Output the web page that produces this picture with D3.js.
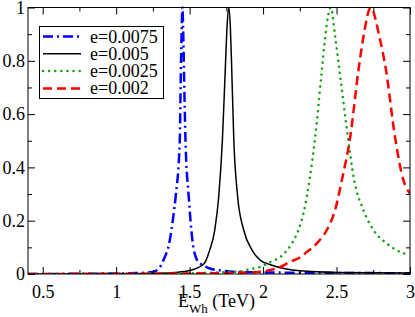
<!DOCTYPE html>
<html>
<head>
<meta charset="utf-8">
<script src="https://cdn.jsdelivr.net/npm/d3@7"></script>
<style>
  body { margin: 0; background: #fff; }
  svg { display: block; }
</style>
</head>
<body>
<svg id="chart" width="415" height="317" font-family="Liberation Serif, DejaVu Serif, Times New Roman, serif"></svg>
<script>
// values (energy in TeV, normalised rate)
var x_ticks = [0.5, 1, 1.5, 2, 2.5, 3];
var y_ticks = [0, 0.2, 0.4, 0.6, 0.8, 1];
var labels = ['e=0.0075', 'e=0.005', 'e=0.0025', 'e=0.002'];

var e_blue = [0.4, 0.8, 1.0, 1.1, 1.2, 1.25, 1.29, 1.32, 1.365, 1.39, 1.405, 1.433, 1.44, 1.446, 1.451, 1.456, 1.462, 1.472, 1.494, 1.519, 1.551, 1.6, 1.63, 1.7, 1.8, 2.0, 2.5, 3.0];
var v_blue = [0, 0.001, 0.002, 0.003, 0.005, 0.008, 0.02, 0.05, 0.127, 0.22, 0.29, 0.5, 0.75, 0.92, 1, 0.92, 0.75, 0.5, 0.29, 0.127, 0.052, 0.03, 0.022, 0.014, 0.008, 0.006, 0.004, 0.003];

var e_black = [0.4, 1.0, 1.3, 1.4, 1.5, 1.55, 1.6, 1.637, 1.671, 1.698, 1.723, 1.745, 1.755, 1.766, 1.777, 1.785, 1.801, 1.827, 1.868, 1.925, 1.98, 2.05, 2.15, 2.25, 2.5, 3.0];
var v_black = [0, 0.001, 0.003, 0.006, 0.013, 0.022, 0.04, 0.09, 0.165, 0.29, 0.5, 0.8, 0.93, 1, 0.93, 0.8, 0.5, 0.29, 0.165, 0.09, 0.052, 0.035, 0.02, 0.012, 0.006, 0.004];

var e_green = [0.4, 1.0, 1.5, 1.7, 1.85, 1.9, 1.98, 2.05, 2.12, 2.14, 2.196, 2.241, 2.28, 2.316, 2.355, 2.4, 2.423, 2.461, 2.491, 2.52, 2.577, 2.62, 2.683, 2.751, 2.841, 2.955, 3.0];
var v_green = [0, 0.001, 0.003, 0.006, 0.01, 0.017, 0.027, 0.045, 0.065, 0.075, 0.115, 0.165, 0.24, 0.352, 0.515, 0.764, 0.89, 1, 0.89, 0.764, 0.515, 0.352, 0.24, 0.165, 0.115, 0.078, 0.072];

var e_red = [0.4, 1.0, 1.5, 1.8, 1.95, 2.05, 2.1, 2.185, 2.25, 2.287, 2.366, 2.434, 2.49, 2.536, 2.593, 2.649, 2.683, 2.733, 2.792, 2.837, 2.898, 2.955, 3.0];
var v_red = [0, 0.001, 0.002, 0.004, 0.007, 0.015, 0.022, 0.046, 0.062, 0.078, 0.115, 0.165, 0.24, 0.352, 0.514, 0.764, 0.89, 1, 0.89, 0.764, 0.514, 0.352, 0.302];

var series = [
    { name: labels[0], e: e_blue,  v: v_blue,  color: '#0000ff', width: 2.5, dash: '10,4,2,4' },
    { name: labels[1], e: e_black, v: v_black, color: '#000000', width: 1.5, dash: null },
    { name: labels[2], e: e_green, v: v_green, color: '#14a014', width: 2.5, dash: '0.1,6' },
    { name: labels[3], e: e_red,   v: v_red,   color: '#ff0000', width: 2.5, dash: '9,5' }
];

var serif = 'Liberation Serif, DejaVu Serif, serif';

function draw(){
    var svg = d3.select('#chart');
    var x0 = 28, x1 = 410, y0 = 7.5, y1 = 274;

    var x = d3.scaleLinear().domain([0.4, 3]).range([x0, x1]);
    var y = d3.scaleLinear().domain([0, 1]).range([y1, y0]);

    svg.append('clipPath').attr('id', 'clip')
        .append('rect').attr('x', x0).attr('y', y0 - 2).attr('width', x1 - x0).attr('height', y1 - y0 + 2);

    // curves
    var line = d3.line()
        .x(function(d){ return x(d[0]); })
        .y(function(d){ return y(d[1]); })
        .curve(d3.curveMonotoneX);

    var curves = svg.append('g').attr('clip-path', 'url(#clip)');
    series.forEach(function(s){
        var pts = s.e.map(function(e, i){ return [e, s.v[i]]; });
        curves.append('path')
            .attr('d', line(pts))
            .attr('fill', 'none')
            .attr('stroke', s.color)
            .attr('stroke-width', s.width)
            .attr('stroke-linecap', s.dash == '0.1,6' ? 'round' : 'butt')
            .attr('stroke-dasharray', s.dash);
    });

    // axes, ticks on all four sides pointing inward
    var axes = svg.append('g');
    var fmt = d3.format('');
    var x_minor = [0.75, 1.25, 1.75, 2.25, 2.75];
    var y_minor = [0.1, 0.3, 0.5, 0.7, 0.9];

    axes.append('g').attr('transform', 'translate(0,' + y1 + ')')
        .call(d3.axisBottom(x).tickValues(x_ticks).tickSizeInner(-7).tickSizeOuter(0).tickPadding(11).tickFormat(fmt));
    axes.append('g').attr('transform', 'translate(0,' + y1 + ')')
        .call(d3.axisBottom(x).tickValues(x_minor).tickSizeInner(-4).tickSizeOuter(0).tickFormat(''));
    axes.append('g').attr('transform', 'translate(0,' + y0 + ')')
        .call(d3.axisTop(x).tickValues(x_ticks).tickSizeInner(-7).tickSizeOuter(0).tickFormat(''));
    axes.append('g').attr('transform', 'translate(0,' + y0 + ')')
        .call(d3.axisTop(x).tickValues(x_minor).tickSizeInner(-4).tickSizeOuter(0).tickFormat(''));

    axes.append('g').attr('transform', 'translate(' + x0 + ',0)')
        .call(d3.axisLeft(y).tickValues(y_ticks).tickSizeInner(-7).tickSizeOuter(0).tickPadding(3).tickFormat(fmt));
    axes.append('g').attr('transform', 'translate(' + x0 + ',0)')
        .call(d3.axisLeft(y).tickValues(y_minor).tickSizeInner(-4).tickSizeOuter(0).tickFormat(''));
    axes.append('g').attr('transform', 'translate(' + x1 + ',0)')
        .call(d3.axisRight(y).tickValues(y_ticks).tickSizeInner(-7).tickSizeOuter(0).tickFormat(''));
    axes.append('g').attr('transform', 'translate(' + x1 + ',0)')
        .call(d3.axisRight(y).tickValues(y_minor).tickSizeInner(-4).tickSizeOuter(0).tickFormat(''));

    axes.selectAll('.domain').remove();
    axes.selectAll('g').attr('font-family', serif);
    axes.selectAll('text').attr('font-family', serif).attr('font-size', 18).attr('fill', '#000');
    axes.selectAll('line').attr('stroke', '#000');

    // frame
    svg.append('rect')
        .attr('x', x0).attr('y', y0)
        .attr('width', x1 - x0).attr('height', y1 - y0)
        .attr('fill', 'none').attr('stroke', '#000').attr('stroke-width', 1);

    // x axis title
    var title = svg.append('text').attr('x', 178).attr('y', 307)
        .attr('font-family', serif).attr('font-size', 18);
    title.append('tspan').text('E');
    title.append('tspan').attr('font-size', 13).attr('dy', 6).text('Wh');
    title.append('tspan').attr('dy', -6).text(' (TeV)');

    // legend
    var legend = svg.append('g');
    legend.append('rect')
        .attr('x', 39.5).attr('y', 26.5).attr('width', 124).attr('height', 72)
        .attr('fill', '#fff').attr('stroke', '#000').attr('stroke-width', 1);

    var rows = legend.selectAll('g.row').data(series).enter().append('g')
        .attr('transform', function(d, i){ return 'translate(0,' + (36.5 + i*17.3) + ')'; });
    rows.append('line')
        .attr('x1', 43).attr('x2', 81).attr('y1', 0).attr('y2', 0)
        .attr('stroke', function(d){ return d.color; })
        .attr('stroke-width', function(d){ return d.width; })
        .attr('stroke-linecap', function(d){ return d.dash == '0.1,6' ? 'round' : 'butt'; })
        .attr('stroke-dasharray', function(d){ return d.dash; });
    rows.append('text')
        .attr('x', 90).attr('y', 6)
        .attr('font-family', serif)
        .attr('font-size', 18)
        .text(function(d){ return d.name; });
}

draw();
</script>
</body>
</html>
